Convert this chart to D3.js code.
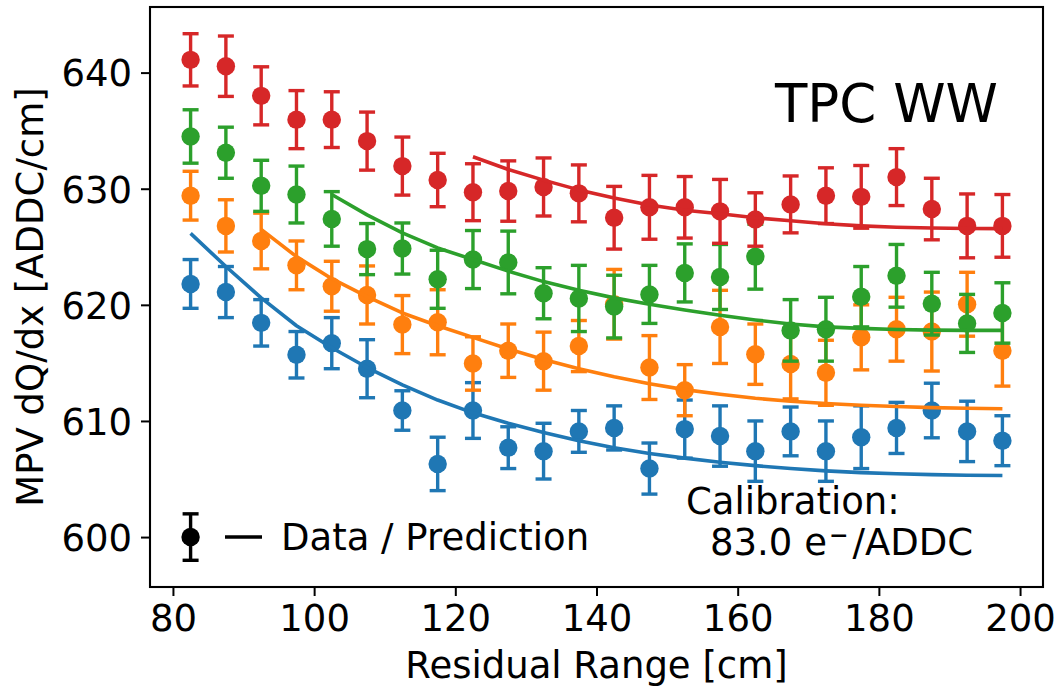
<!DOCTYPE html>
<html>
<head>
<meta charset="utf-8">
<script src="https://cdn.jsdelivr.net/npm/d3@7/dist/d3.min.js"></script>
<style>
  html, body { margin: 0; padding: 0; background: #ffffff; }
  svg { display: block; }
  text { font-family: "DejaVu Sans", sans-serif; fill: #000; }
</style>
</head>
<body>
<svg id="chart" width="1061" height="688"></svg>
<script>
// ---- data ----
const residualRange = [82.5, 87.5, 92.5, 97.5, 102.5, 107.5, 112.5, 117.5, 122.5, 127.5, 132.5, 137.5,
                       142.5, 147.5, 152.5, 157.5, 162.5, 167.5, 172.5, 177.5, 182.5, 187.5, 192.5, 197.5];

const blueData  = [621.8, 621.1, 618.45, 615.7, 616.7, 614.5, 610.9, 606.3, 610.9, 607.7, 607.4, 609.1,
                   609.4, 605.9, 609.3, 608.7, 607.4, 609.1, 607.4, 608.6, 609.4, 610.9, 609.1, 608.3];
const blueErr   = [2.1, 2.2, 2.0, 2.0, 2.2, 2.5, 1.7, 2.3, 2.4, 1.8, 2.4, 1.8,
                   1.9, 2.2, 2.5, 2.6, 2.6, 2.1, 2.6, 2.7, 2.2, 2.35, 2.6, 2.15];
const blueFit   = [626.15, 623.3, 620.6, 618.2, 616.3, 614.6, 613.1, 611.8, 610.7, 609.8, 609.0, 608.3,
                   607.7, 607.2, 606.8, 606.45, 606.15, 605.9, 605.7, 605.55, 605.45, 605.38, 605.33, 605.3];

const orangeData = [629.4, 626.8, 625.5, 623.4, 621.6, 620.85, 618.3, 618.5, 614.95, 616.05, 615.15, 616.45,
                    620.05, 614.6, 612.65, 618.1, 615.75, 614.9, 614.15, 617.2, 617.9, 617.7, 620.05, 616.05];
const orangeErr  = [2.1, 2.25, 2.4, 2.1, 2.15, 2.5, 2.5, 2.8, 2.3, 2.3, 2.5, 2.2,
                    3.0, 2.75, 2.2, 3.15, 2.6, 3.0, 2.8, 2.8, 2.75, 3.4, 2.75, 3.05];
const orangeFit  = [null, null, 626.5, 624.15, 622.25, 620.7, 619.3, 618.2, 617.2, 616.2, 615.3, 614.5,
                    613.8, 613.2, 612.7, 612.3, 611.95, 611.7, 611.5, 611.35, 611.25, 611.15, 611.1, 611.05];

const greenData = [634.5, 633.1, 630.25, 629.5, 627.4, 624.8, 624.85, 622.2, 623.9, 623.65, 621.0, 620.55,
                   619.85, 620.9, 622.75, 622.4, 624.15, 617.8, 617.9, 620.7, 622.5, 620.1, 618.4, 619.3];
const greenErr  = [2.3, 2.2, 2.2, 2.45, 2.35, 2.2, 2.2, 2.5, 2.5, 2.7, 2.2, 2.85,
                   2.7, 2.5, 2.5, 2.8, 2.8, 2.65, 2.75, 2.6, 2.7, 2.7, 2.5, 2.6];
const greenFit  = [null, null, null, null, 629.5, 627.75, 626.2, 624.9, 623.9, 622.9, 622.0, 621.25,
                   620.6, 620.05, 619.55, 619.1, 618.7, 618.35, 618.1, 617.97, 617.88, 617.82, 617.8, 617.8];

const redData   = [641.1, 640.55, 638.0, 635.95, 635.95, 634.1, 631.95, 630.75, 629.7, 629.8, 630.15, 629.6,
                   627.5, 628.4, 628.4, 628.05, 627.35, 628.65, 629.4, 629.3, 631.0, 628.25, 626.8, 626.8];
const redErr    = [2.25, 2.6, 2.5, 2.5, 2.4, 2.5, 2.5, 2.3, 2.45, 2.6, 2.5, 2.45,
                   2.7, 2.75, 2.65, 2.75, 2.3, 2.45, 2.4, 2.7, 2.45, 2.65, 2.75, 2.7];
const redFit    = [null, null, null, null, null, null, null, null, 632.75, 631.66, 630.74, 629.9,
                   629.2, 628.6, 628.15, 627.85, 627.5, 627.24, 626.98, 626.8, 626.68, 626.62, 626.58, 626.56];

const seriesColors = ["#1f77b4", "#ff7f0e", "#2ca02c", "#d62728"];
const xTicks = [80, 100, 120, 140, 160, 180, 200];
const yTicks = [600, 610, 620, 630, 640];

const legendPoint = { x: 82.5, y: 600, err: 2 };
const legendLabel = "Data / Prediction";
const titleText = "TPC WW";
const calibLine1 = "Calibration:";
const calibValue = "83.0 e";
const calibSup = "\u207B";
const calibUnit = "/ADDC";
const xLabel = "Residual Range [cm]";
const yLabel = "MPV dQ/dx [ADDC/cm]";

// ---- layout ----
const svg = d3.select("#chart");
const L = 150, R = 1043, T = 7, B = 587;
const x = d3.scaleLinear().domain([76.75, 203.25]).range([L, R]);
const y = d3.scaleLinear().domain([595.7, 645.65]).range([B, T]);

const FS = 37;

const series = [
  { data: blueData, err: blueErr, fit: blueFit, color: seriesColors[0] },
  { data: orangeData, err: orangeErr, fit: orangeFit, color: seriesColors[1] },
  { data: greenData, err: greenErr, fit: greenFit, color: seriesColors[2] },
  { data: redData, err: redErr, fit: redFit, color: seriesColors[3] }
];

const plot = svg.append("g");
const clipId = "plotclip";
svg.append("defs").append("clipPath").attr("id", clipId)
  .append("rect").attr("x", L).attr("y", T).attr("width", R - L).attr("height", B - T);
plot.attr("clip-path", `url(#${clipId})`);

const capHalf = 8, lw = 3.4, rad = 9.2;

function drawErrorbar(g, pts, color) {
  const gg = g.append("g");
  gg.selectAll("line.v").data(pts).join("line")
    .attr("x1", d => x(d.x)).attr("x2", d => x(d.x))
    .attr("y1", d => y(d.y - d.e)).attr("y2", d => y(d.y + d.e))
    .attr("stroke", color).attr("stroke-width", lw);
  gg.selectAll("line.ct").data(pts).join("line")
    .attr("x1", d => x(d.x) - capHalf).attr("x2", d => x(d.x) + capHalf)
    .attr("y1", d => y(d.y + d.e)).attr("y2", d => y(d.y + d.e))
    .attr("stroke", color).attr("stroke-width", lw);
  gg.selectAll("line.cb").data(pts).join("line")
    .attr("x1", d => x(d.x) - capHalf).attr("x2", d => x(d.x) + capHalf)
    .attr("y1", d => y(d.y - d.e)).attr("y2", d => y(d.y - d.e))
    .attr("stroke", color).attr("stroke-width", lw);
  gg.selectAll("circle").data(pts).join("circle")
    .attr("cx", d => x(d.x)).attr("cy", d => y(d.y)).attr("r", rad)
    .attr("fill", color);
}

const line = d3.line()
  .defined(d => d.v !== null)
  .x(d => x(d.x)).y(d => y(d.v));

series.forEach(s => {
  const pts = residualRange.map((xv, i) => ({ x: xv, y: s.data[i], e: s.err[i] }));
  drawErrorbar(plot, pts, s.color);
  const fpts = residualRange.map((xv, i) => ({ x: xv, v: s.fit[i] }));
  plot.append("path").datum(fpts.filter(d => d.v !== null))
    .attr("d", line).attr("fill", "none")
    .attr("stroke", s.color).attr("stroke-width", 3.6)
    .attr("stroke-linejoin", "round");
});

// legend (black data marker + line)
drawErrorbar(plot, [{ x: legendPoint.x, y: legendPoint.y, e: legendPoint.err }], "#000");
const ly = y(legendPoint.y);
svg.append("line").attr("x1", 225).attr("x2", 262).attr("y1", ly).attr("y2", ly)
  .attr("stroke", "#000").attr("stroke-width", 3.6);
svg.append("text").attr("x", 281).attr("y", ly + 13).attr("font-size", FS).text(legendLabel);

// title
svg.append("text").attr("x", 998).attr("y", 122).attr("text-anchor", "end")
  .attr("font-size", 53).text(titleText);

// calibration
svg.append("text").attr("x", 686).attr("y", 514).attr("font-size", FS).text(calibLine1);
const t2 = svg.append("text").attr("x", 710).attr("y", 555).attr("font-size", FS);
t2.append("tspan").text(calibValue);
t2.append("tspan").attr("dx", 2).attr("font-weight", "bold").text(calibSup);
t2.append("tspan").attr("dx", 4).attr("font-weight", "normal").text(calibUnit);

// axes
const xAxis = d3.axisBottom(x).tickValues(xTicks).tickSize(9).tickPadding(9).tickFormat(d3.format("d"));
const yAxis = d3.axisLeft(y).tickValues(yTicks).tickSize(9).tickPadding(9).tickFormat(d3.format("d"));

const gx = svg.append("g").attr("transform", `translate(0,${B})`).call(xAxis);
const gy = svg.append("g").attr("transform", `translate(${L},0)`).call(yAxis);
[gx, gy].forEach(g => {
  g.select(".domain").remove();
  g.selectAll(".tick line").attr("stroke", "#000").attr("stroke-width", 2);
  g.selectAll(".tick text").attr("font-size", FS).attr("font-family", "DejaVu Sans").attr("fill", "#000");
});
gx.selectAll(".tick text").attr("dy", null).attr("y", 44);
gy.selectAll(".tick text").attr("dy", "0.36em");

// frame
svg.append("rect").attr("x", L).attr("y", T).attr("width", R - L).attr("height", B - T)
  .attr("fill", "none").attr("stroke", "#000").attr("stroke-width", 2.1);

// axis labels
svg.append("text").attr("x", (L + R) / 2).attr("y", 678).attr("text-anchor", "middle")
  .attr("font-size", FS).text(xLabel);
svg.append("text").attr("transform", `translate(43,${(T + B) / 2}) rotate(-90)`)
  .attr("text-anchor", "middle").attr("font-size", FS).text(yLabel);
</script>
</body>
</html>
